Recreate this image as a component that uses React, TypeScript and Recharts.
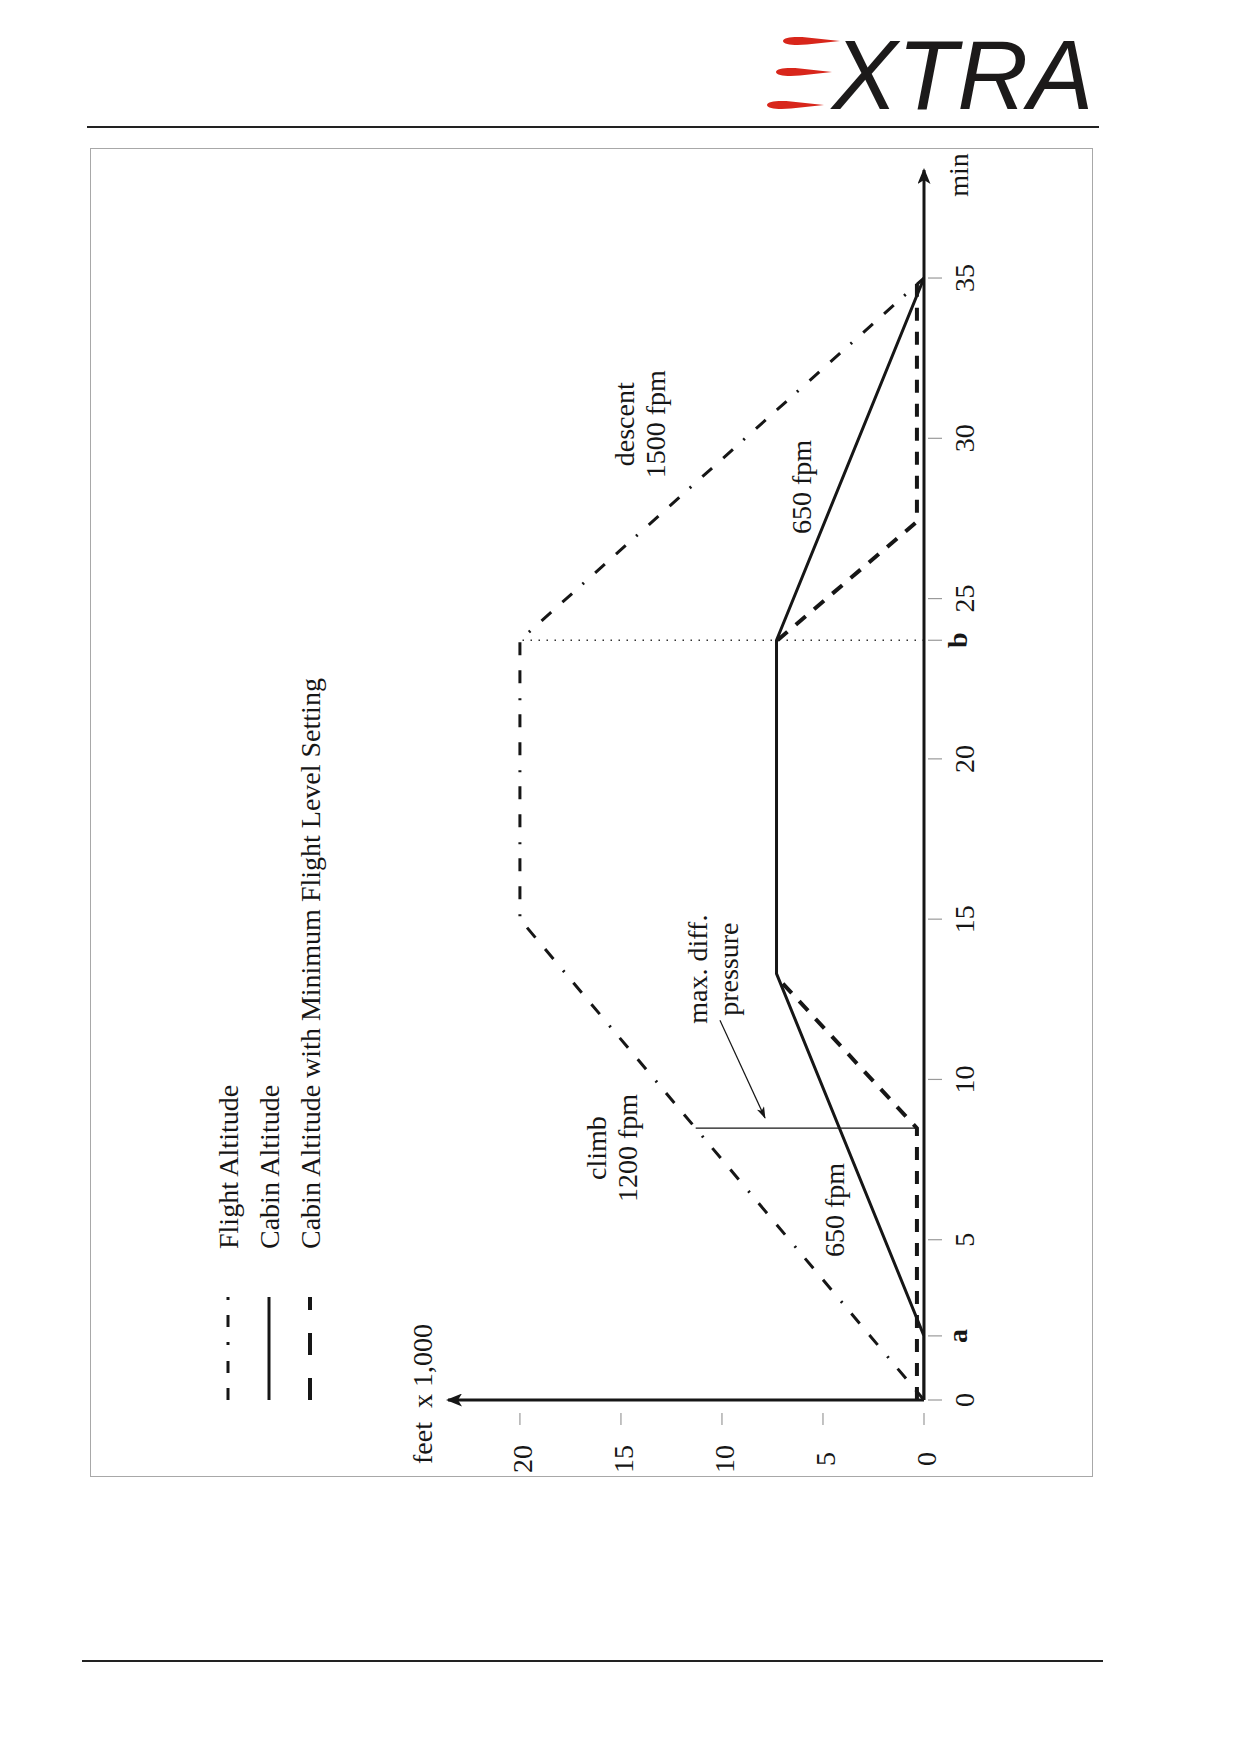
import React from 'react';
import { LineChart, Line, XAxis, YAxis, ReferenceLine, ReferenceDot, Legend } from 'recharts';

// time in min, altitude in feet x 1,000
const seriesNames = ['Flight Altitude', 'Cabin Altitude', 'Cabin Altitude with Minimum Flight Level Setting'];

const flightTime = [0, 15, 23.7, 35];
const flightFeet = [0, 20, 20, 0];

const cabinTime = [0, 2, 13.3, 23.7, 35];
const cabinFeet = [0, 0, 7.3, 7.3, 0];

// the null hides the part that runs under the cabin altitude line
const minLevelTime = [0, 8.48, 13.0, 13.1, 23.7, 27.4, 35];
const minLevelFeet = [0.35, 0.35, 7.0, null, 7.25, 0.35, 0.35];

const timeTicks = [0, 2, 5, 10, 15, 20, 23.7, 25, 30, 35];
const timeTickNames: Record<string, string> = { '2': 'a', '23.7': 'b' };
const feetTicks = [0, 5, 10, 15, 20];

const maxDiffTime = 8.48;
const maxDiffFeet = [0.35, 11.3];
const pointB = 23.7;
const arrowFrom = { t: 11.85, ft: 10.1 };
const arrowTo = { t: 8.8, ft: 7.87 };

const noteLines = [['climb', '1200 fpm'], ['650 fpm'], ['max. diff.', 'pressure'], ['descent', '1500 fpm'], ['650 fpm']];
const noteTime = [7.86, 5.93, 13.44, 30.44, 28.48];
const noteFeet = [15.45, 4.46, 10.45, 14.06, 6.09];

const toPoints = (t: number[], ft: (number | null)[]) => t.map((x, i) => ({ t: x, ft: ft[i] }));

const SERIF = '"Liberation Serif", "Times New Roman", serif';
const INK = '#161616';

const CW = 1329;
const CH = 1003;

const legendLook: Record<string, { dash?: string; width: number }> = {
  [seriesNames[0]]: { dash: '12 15 12 16 3 15', width: 3 },
  [seriesNames[1]]: { width: 3 },
  [seriesNames[2]]: { dash: '22 23', width: 4 },
};

const TimeTick = ({ x, y, payload }: any) => {
  const name = timeTickNames[String(payload.value)];
  return (
    <g>
      <line x1={x} x2={x} y1={y + 4} y2={y + 18} stroke="#9a9a9a" strokeWidth={1.2} />
      <text x={x} y={y + (name ? 43 : 50)} textAnchor="middle" fontFamily={SERIF} fontSize={28}
        fontWeight={name ? 'bold' : 'normal'} fill={INK}>
        {name ?? payload.value}
      </text>
    </g>
  );
};

const FeetTick = ({ x, y, payload }: any) => (
  <g>
    <line x1={x - 13} x2={x - 25} y1={y} y2={y} stroke="#9a9a9a" strokeWidth={1.2} />
    <text x={x - 59} y={y + 12} textAnchor="middle" fontFamily={SERIF} fontSize={28} fill={INK}>
      {payload.value}
    </text>
  </g>
);

const LegendBox = ({ payload }: any) => {
  const items = [...(payload || [])].sort(
    (a: any, b: any) => seriesNames.indexOf(a.value) - seriesNames.indexOf(b.value)
  );
  return (
    <svg width={CW} height={260}>
      {items.map((entry: any, i: number) => {
        const look = legendLook[entry.value] || { width: 3 };
        const v = 138 + i * 41;
        return (
          <g key={entry.value}>
            <line x1={77} x2={180} y1={v} y2={v} stroke={INK} strokeWidth={look.width} strokeDasharray={look.dash} />
            <text x={228} y={v + 10} fontFamily={SERIF} fontSize={28} fill={INK}>{entry.value}</text>
          </g>
        );
      })}
    </svg>
  );
};

const noteShape = (lines: string[]) => (p: any) => (
  <g>
    {lines.map((s, i) => (
      <text key={s} x={p.cx} y={p.cy + 10 + (i - (lines.length - 1) / 2) * 31} textAnchor="middle"
        fontFamily={SERIF} fontSize={28} fill={INK}>
        {s}
      </text>
    ))}
  </g>
);

const Chart = () => (
  <LineChart width={CW} height={CH} margin={{ top: 358, right: 22, bottom: 109, left: 17 }}>
    <XAxis dataKey="t" type="number" domain={[0, 38.37]} allowDataOverflow ticks={timeTicks} interval={0}
      tickSize={0} tickMargin={0} tickLine={false} height={60}
      axisLine={{ stroke: INK, strokeWidth: 3, markerEnd: 'url(#axisArrow)' }}
      tick={(p: any) => <TimeTick {...p} />}
      label={{
        content: ({ viewBox }: any) => (
          <text x={viewBox.x + viewBox.width - 5} y={viewBox.y + 44} textAnchor="middle"
            fontFamily={SERIF} fontSize={28} fill={INK}>min</text>
        ),
      }}
    />
    <YAxis dataKey="ft" type="number" domain={[0, 23.56]} allowDataOverflow ticks={feetTicks} interval={0}
      tickSize={0} tickMargin={0} tickLine={false} width={60}
      axisLine={{ stroke: INK, strokeWidth: 3, markerStart: 'url(#axisArrow)' }}
      tick={(p: any) => <FeetTick {...p} />}
      label={{
        content: ({ viewBox }: any) => (
          <text x={viewBox.x + viewBox.width + 6} y={viewBox.y - 16} textAnchor="middle"
            fontFamily={SERIF} fontSize={28} fill={INK} style={{ whiteSpace: 'pre' }}>feet  x 1,000</text>
        ),
      }}
    />
    <Legend layout="horizontal" verticalAlign="middle" align="center" content={<LegendBox />}
      wrapperStyle={{ left: 0, top: 0, width: CW, height: 260 }} />
    <ReferenceLine segment={[{ x: pointB, y: 0 }, { x: pointB, y: flightFeet[1] }]} stroke="#333"
      strokeWidth={1.6} strokeDasharray="1.5 6.5" />
    <ReferenceLine segment={[{ x: maxDiffTime, y: maxDiffFeet[0] }, { x: maxDiffTime, y: maxDiffFeet[1] }]}
      stroke={INK} strokeWidth={1.3} />
    <ReferenceLine segment={[{ x: arrowFrom.t, y: arrowFrom.ft }, { x: arrowTo.t, y: arrowTo.ft }]}
      shape={(p: any) => (
        <line x1={p.x1} y1={p.y1} x2={p.x2} y2={p.y2} stroke={INK} strokeWidth={1.2} markerEnd="url(#noteArrow)" />
      )} />
    <Line data={toPoints(flightTime, flightFeet)} dataKey="ft" name={seriesNames[0]} stroke={INK}
      strokeWidth={3} strokeDasharray="13 15 13 14 2 15" dot={false} activeDot={false} isAnimationActive={false} />
    <Line data={toPoints(cabinTime, cabinFeet)} dataKey="ft" name={seriesNames[1]} stroke={INK}
      strokeWidth={3} dot={false} activeDot={false} isAnimationActive={false} />
    <Line data={toPoints(minLevelTime, minLevelFeet)} dataKey="ft" name={seriesNames[2]}
      stroke={INK} strokeWidth={4} strokeDasharray="13 11" dot={false} activeDot={false} isAnimationActive={false} />
    {noteLines.map((lines, i) => (
      <ReferenceDot key={i} x={noteTime[i]} y={noteFeet[i]} r={1} shape={noteShape(lines)} />
    ))}
  </LineChart>
);

const streak = (x0: number, x1: number, y: number) =>
  `M${x0},${y} C${x0},${y - 4} ${x0 + 12},${y - 4.5} ${x0 + 24},${y - 3.6} L${x1},${y} L${x0 + 24},${y + 3.6} C${x0 + 12},${y + 4.5} ${x0},${y + 4} ${x0},${y} Z`;

export default function App() {
  return (
    <div style={{ position: 'absolute', left: 0, top: 0, width: 1239, height: 1754, background: '#fff' }}>
      <svg width={0} height={0} style={{ position: 'absolute' }}>
        <defs>
          <marker id="axisArrow" markerUnits="userSpaceOnUse" viewBox="0 0 16 13" markerWidth={16} markerHeight={13}
            refX={14} refY={6.5} orient="auto-start-reverse">
            <path d="M0,0 L16,6.5 L0,13 L4,6.5 Z" fill={INK} />
          </marker>
          <marker id="noteArrow" markerUnits="userSpaceOnUse" viewBox="0 0 12 8" markerWidth={12} markerHeight={8}
            refX={11} refY={4} orient="auto">
            <path d="M0,0 L12,4 L0,8 L3,4 Z" fill={INK} />
          </marker>
        </defs>
      </svg>

      <svg width={400} height={120} style={{ position: 'absolute', left: 740, top: 10 }}>
        <path d={streak(43, 100, 31)} fill="#d8261b" />
        <path d={streak(36, 92, 62)} fill="#d8261b" />
        <path d={streak(27, 84, 95)} fill="#d8261b" />
        <text x={92} y={99} fontFamily='"Liberation Sans", Arial, sans-serif' fontStyle="italic" fontSize={98}
          fill="#1c1a1a">XTRA</text>
      </svg>

      <div style={{ position: 'absolute', left: 87, top: 126, width: 1012, height: 2, background: '#222' }} />
      <div style={{ position: 'absolute', left: 82, top: 1660, width: 1021, height: 2, background: '#222' }} />
      <div style={{ position: 'absolute', left: 90, top: 148, width: 1003, height: 1329, boxSizing: 'border-box',
        border: '1px solid #a8a8a8' }} />

      <div style={{ position: 'absolute', left: 90, top: 1477, width: CW, height: CH,
        transformOrigin: '0 0', transform: 'rotate(-90deg)' }}>
        <Chart />
      </div>
    </div>
  );
}
